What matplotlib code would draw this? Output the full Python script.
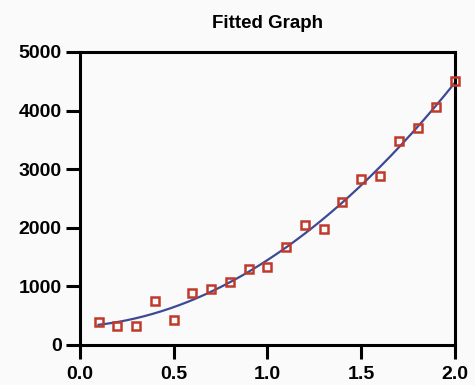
import numpy as np
import matplotlib
matplotlib.use("Agg")
import matplotlib.pyplot as plt

x_data = [0.1, 0.2, 0.3, 0.4, 0.5, 0.6, 0.7, 0.8, 0.9, 1.0,
          1.1, 1.2, 1.3, 1.4, 1.5, 1.6, 1.7, 1.8, 1.9, 2.0]
y_data = [400, 330, 330, 756, 427, 893, 961, 1075, 1297, 1326,
          1678, 2048, 1980, 2440, 2833, 2890, 3476, 3698, 4067, 4505]
x_ticks = [0.0, 0.5, 1.0, 1.5, 2.0]
x_tick_labels = ["0.0", "0.5", "1.0", "1.5", "2.0"]
y_ticks = [0, 1000, 2000, 3000, 4000, 5000]
y_tick_labels = ["0", "1000", "2000", "3000", "4000", "5000"]
title = "Fitted Graph"

coef = np.polyfit(x_data, y_data, 2)
xf = np.linspace(min(x_data), max(x_data), 200)
yf = np.polyval(coef, xf)

bg = "#fafafa"
fig = plt.figure(figsize=(4.75, 3.85), dpi=100, facecolor=bg)
ax = fig.add_axes([0.168, 0.104, 0.79, 0.761], facecolor=bg)

ax.plot(xf, yf, color="#3c4a94", lw=1.6, zorder=2)
ax.plot(x_data, y_data, linestyle="none", marker="s", markersize=6.3,
        markerfacecolor="none", markeredgecolor="#c0392b", markeredgewidth=1.8,
        zorder=3, clip_on=False)

ax.set_xlim(0, 2.0)
ax.set_ylim(0, 5000)
ax.set_xticks(x_ticks)
ax.set_xticklabels(x_tick_labels)
ax.set_yticks(y_ticks)
ax.set_yticklabels(y_tick_labels)

for s in ax.spines.values():
    s.set_linewidth(2.2)
    s.set_color("black")
ax.tick_params(axis="both", direction="out", length=10, width=2.2,
               labelsize=14, pad=3)
ax.tick_params(axis="x", pad=5)
for lab in ax.get_xticklabels() + ax.get_yticklabels():
    lab.set_fontfamily("Liberation Sans")
    lab.set_fontweight("bold")

ax.set_title(title, fontsize=13.5, fontfamily="Liberation Sans", fontweight="bold", pad=17)

fig.savefig("out.png", dpi=100, facecolor=bg)
